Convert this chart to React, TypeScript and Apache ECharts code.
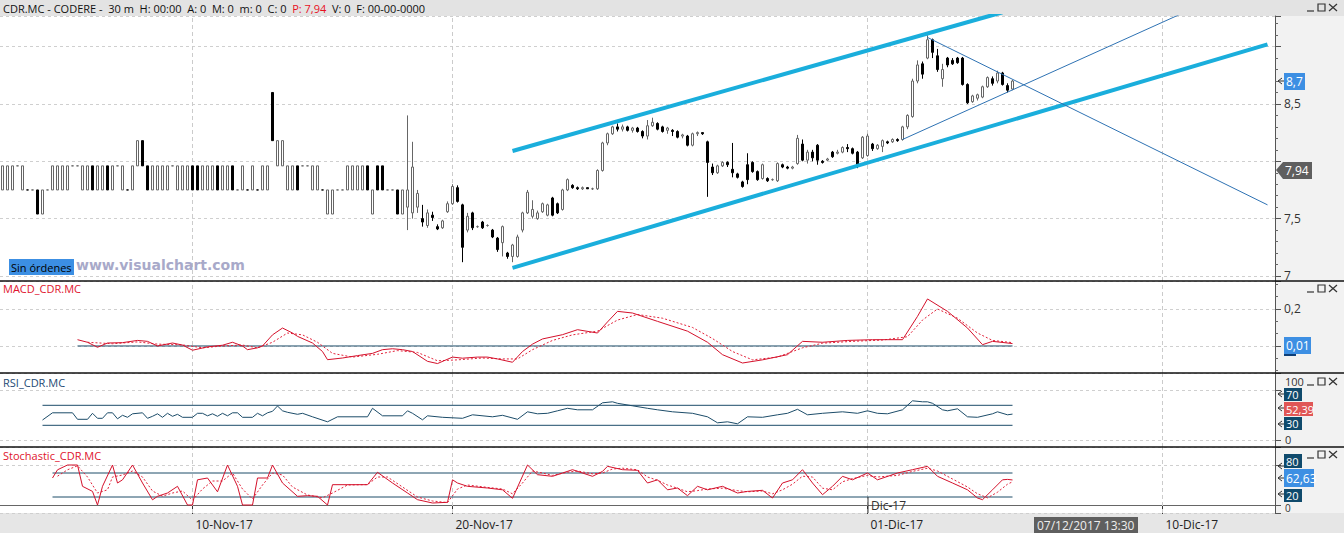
import React, { useEffect, useRef } from 'react';
import * as echarts from 'echarts';

const FONT = "'Open Sans', 'Noto Sans', sans-serif";

// ---------- price candles [open, close, low, high] (30-minute bars) ----------
const U = [7.75, 7.96, 7.75, 7.96];
const D = [7.96, 7.75, 7.75, 7.96];
const T = [7.96, 7.96, 7.96, 7.96];
const B = [7.75, 7.75, 7.75, 7.75];
const Ld = [7.75, 7.54, 7.54, 7.75];
const Lu = [7.54, 7.75, 7.54, 7.75];

const candles: number[][] = [
  U, U, U, T, U, B, B, Ld, Lu, B,
  U, U, U, U, T, T, U, U, D, U,
  U, D, U, T, U, B, U, [7.96, 8.18, 7.96, 8.18], [8.18, 7.96, 7.96, 8.18], D,
  U, U, U, U, T, U, U, U, D, D,
  U, U, U, D, U, U, D, B, U, B,
  U, B, U, U, [8.6, 8.18, 8.18, 8.6], [7.96, 8.18, 7.96, 8.18], [7.96, 8.18, 7.96, 8.18], U, U, D,
  T, T, U, U, B, Lu, Lu, B, B, U,
  U, U, U, D, Lu, D, D, B, B, Ld,
  Lu,
  [7.6, 7.75, 7.4, 8.4], [7.55, 7.95, 7.5, 8.17], [7.6, 7.72, 7.55, 7.75], [7.5, 7.47, 7.43, 7.62],
  [7.44, 7.55, 7.42, 7.58], [7.53, 7.51, 7.48, 7.56], [7.43, 7.41, 7.4, 7.45], [7.42, 7.48, 7.41, 7.49],
  [7.56, 7.63, 7.55, 7.65], [7.63, 7.78, 7.62, 7.8], [7.77, 7.65, 7.64, 7.79], [7.62, 7.25, 7.12, 7.63],
  [7.4, 7.52, 7.38, 7.55], [7.55, 7.42, 7.4, 7.56], [7.43, 7.43, 7.42, 7.44], [7.47, 7.42, 7.41, 7.48],
  [7.44, 7.44, 7.43, 7.45], [7.4, 7.34, 7.33, 7.41], [7.33, 7.23, 7.21, 7.34], [7.29, 7.43, 7.17, 7.44],
  [7.2, 7.17, 7.15, 7.21], [7.17, 7.27, 7.12, 7.28], [7.17, 7.34, 7.16, 7.36], [7.4, 7.55, 7.38, 7.56],
  [7.55, 7.73, 7.54, 7.75], [7.52, 7.58, 7.5, 7.66], [7.5, 7.55, 7.49, 7.57], [7.56, 7.63, 7.55, 7.64],
  [7.53, 7.62, 7.52, 7.63], [7.68, 7.53, 7.52, 7.69], [7.63, 7.55, 7.54, 7.64], [7.58, 7.75, 7.57, 7.76],
  [7.75, 7.84, 7.74, 7.85], [7.79, 7.77, 7.76, 7.8], [7.77, 7.76, 7.75, 7.78], [7.76, 7.77, 7.75, 7.78],
  [7.77, 7.76, 7.76, 7.77], [7.76, 7.76, 7.75, 7.77], [7.76, 7.92, 7.75, 7.93], [7.92, 8.16, 7.91, 8.17],
  [8.16, 8.24, 8.14, 8.25], [8.24, 8.3, 8.23, 8.31], [8.3, 8.28, 8.26, 8.33], [8.28, 8.3, 8.26, 8.32],
  [8.3, 8.27, 8.26, 8.31], [8.27, 8.29, 8.25, 8.3], [8.29, 8.26, 8.25, 8.3], [8.26, 8.22, 8.2, 8.27],
  [8.22, 8.31, 8.19, 8.36], [8.31, 8.34, 8.3, 8.38], [8.33, 8.28, 8.27, 8.34], [8.3, 8.26, 8.25, 8.31],
  [8.27, 8.29, 8.24, 8.3], [8.27, 8.26, 8.22, 8.28], [8.26, 8.21, 8.2, 8.27], [8.22, 8.23, 8.2, 8.24],
  [8.22, 8.14, 8.13, 8.23], [8.14, 8.24, 8.13, 8.25], [8.24, 8.25, 8.22, 8.26], [8.25, 8.24, 8.23, 8.25],
  [8.17, 7.99, 7.69, 8.18], [7.95, 7.9, 7.88, 7.98], [7.9, 7.96, 7.89, 7.97], [7.96, 7.99, 7.95, 8.0],
  [7.99, 7.97, 7.95, 8.0], [7.93, 7.9, 7.86, 8.16], [7.89, 7.86, 7.85, 7.9], [7.82, 7.78, 7.77, 7.83],
  [7.97, 7.84, 7.8, 8.07], [7.99, 7.91, 7.9, 8.0], [7.91, 7.84, 7.83, 7.92], [7.85, 7.97, 7.84, 7.98],
  [7.85, 7.83, 7.82, 7.86], [7.84, 7.84, 7.83, 7.85], [7.83, 7.98, 7.82, 7.99], [7.97, 7.95, 7.94, 7.98],
  [7.95, 7.94, 7.93, 7.96], [7.94, 7.95, 7.93, 7.96], [7.98, 8.2, 7.97, 8.23], [8.15, 8.01, 8.0, 8.19],
  [8.01, 8.08, 7.98, 8.1], [8.08, 8.03, 8.0, 8.1], [8.14, 8.01, 7.97, 8.15], [8.0, 7.99, 7.98, 8.01],
  [8.01, 8.02, 8.0, 8.03], [8.08, 8.04, 8.03, 8.09], [8.07, 8.08, 8.06, 8.1], [8.08, 8.12, 8.07, 8.13],
  [8.12, 8.11, 8.08, 8.15], [8.11, 8.07, 8.06, 8.12], [8.08, 7.97, 7.94, 8.09], [8.03, 8.21, 8.02, 8.22],
  [8.05, 8.22, 8.04, 8.24], [8.15, 8.11, 8.09, 8.16], [8.11, 8.14, 8.1, 8.15], [8.13, 8.18, 8.08, 8.19],
  [8.17, 8.16, 8.15, 8.18], [8.17, 8.19, 8.16, 8.2], [8.19, 8.18, 8.17, 8.2], [8.19, 8.3, 8.18, 8.31],
  [8.3, 8.4, 8.28, 8.41], [8.39, 8.7, 8.38, 8.72], [8.7, 8.84, 8.68, 8.88], [8.85, 8.76, 8.72, 8.87],
  [8.9, 9.06, 8.89, 9.1], [9.06, 8.95, 8.9, 9.07], [8.92, 8.8, 8.78, 8.98], [8.72, 8.8, 8.65, 8.85],
  [8.9, 8.84, 8.82, 8.91], [8.88, 8.85, 8.84, 8.9], [8.9, 8.86, 8.85, 8.91], [8.9, 8.67, 8.66, 8.91],
  [8.67, 8.51, 8.5, 8.68], [8.52, 8.57, 8.51, 8.58], [8.55, 8.58, 8.53, 8.59], [8.56, 8.65, 8.55, 8.66],
  [8.65, 8.73, 8.64, 8.74], [8.72, 8.68, 8.66, 8.74], [8.7, 8.77, 8.68, 8.79], [8.77, 8.67, 8.66, 8.78],
  [8.66, 8.62, 8.6, 8.68], [8.63, 8.7, 8.62, 8.71],
];

// ---------- drawn trend lines [barIndex, price] ----------
const channelUpper = [[102, 8.09], [200, 9.3]];
const channelLower = [[102, 7.07], [253, 9.02]];
const triangleDown = [[185, 9.08], [253, 7.62]];
const triangleUp = [[180, 8.19], [240, 9.37]];

// ---------- indicators [barIndex, value] ----------
const macdLine = [
  [15, 0.034], [17, 0.02], [19, -0.007], [21, 0.016], [24, 0.018], [27, 0.03], [29, 0.025], [31, 0], [34, 0.016],
  [36, 0.005], [38, -0.023], [41, -0.005], [44, 0.004], [46, 0.02], [48, 0], [49, -0.02], [51, -0.01], [52, 0],
  [54, 0.06], [56, 0.097], [58, 0.07], [59, 0.052], [62, 0.016], [64, -0.03], [65, -0.074], [68, -0.065],
  [71, -0.052], [74, -0.04], [76, -0.02], [78, -0.015], [80, -0.02], [82, -0.03], [85, -0.083], [87, -0.095],
  [90, -0.06], [92, -0.066], [95, -0.06], [97, -0.06], [99, -0.07], [102, -0.088], [104, -0.03], [106, 0.01],
  [108, 0.038], [112, 0.061], [115, 0.088], [119, 0.07], [121, 0.13], [123, 0.187], [126, 0.178], [131, 0.133],
  [137, 0.08], [141, 0.02], [144, -0.047], [148, -0.092], [152, -0.075], [157, -0.047], [160, 0.025], [164, 0.02],
  [169, 0.03], [174, 0.034], [180, 0.034], [183, 0.16], [185, 0.254], [189, 0.187], [193, 0.097], [196, 0.007],
  [198, 0.025], [202, 0.013],
];
const macdSignal = [
  [17, 0.02], [22, 0.012], [27, 0.022], [31, 0.01], [36, 0.006], [40, -0.01], [44, 0], [48, 0.005], [51, -0.01],
  [54, 0.02], [57, 0.07], [60, 0.06], [63, 0.02], [66, -0.04], [70, -0.06], [75, -0.045], [79, -0.025], [83, -0.035],
  [87, -0.08], [91, -0.075], [96, -0.065], [100, -0.07], [103, -0.07], [106, -0.02], [110, 0.03], [114, 0.06],
  [119, 0.08], [123, 0.14], [127, 0.17], [132, 0.15], [138, 0.1], [142, 0.04], [146, -0.03], [150, -0.075],
  [155, -0.06], [160, -0.01], [164, 0.015], [170, 0.025], [176, 0.032], [181, 0.05], [184, 0.14], [187, 0.2],
  [191, 0.15], [195, 0.07], [198, 0.03], [202, 0.018],
];
const rsiLine = [
  [8, 40.6], [10, 55], [14, 55], [15, 42], [17, 42], [18, 54], [19, 44], [20, 44], [21, 55], [22, 55], [23, 43],
  [24, 50], [25, 46], [26, 53], [28, 55], [29, 44], [30, 48], [31, 53], [32, 46], [33, 54], [34, 48], [35, 52],
  [36, 46], [38, 46], [39, 54], [40, 54], [41, 49], [42, 53], [43, 48], [44, 54], [45, 49], [46, 55], [47, 55],
  [48, 46], [50, 46], [51, 54], [52, 49], [53, 55], [54, 58], [55, 68.6], [56, 59], [57, 56], [59, 52], [60, 54],
  [62, 47], [65, 37], [67, 47], [73, 47], [74, 64], [76, 49], [80, 49], [81, 59], [82, 54], [84, 41], [85, 49],
  [88, 46], [92, 44], [94, 51], [98, 47], [100, 50], [103, 42], [105, 57], [107, 53], [109, 54], [111, 59],
  [113, 64], [115, 61], [118, 61], [120, 75], [122, 77], [123, 74], [126, 69], [129, 64], [131, 61], [134, 57],
  [138, 54], [141, 47], [143, 35], [145, 37], [147, 33], [149, 47], [152, 46], [155, 51], [157, 54], [159, 62],
  [161, 51], [164, 54], [168, 57], [171, 54], [173, 59], [175, 54], [177, 53], [180, 61], [182, 79], [184, 77],
  [185, 77], [186, 74], [188, 61], [189, 59], [191, 63], [193, 47], [195, 46], [198, 53], [199, 57], [201, 51],
  [202, 52.4],
];
const stochK = [
  [10, 67.5], [11, 88], [13, 100], [15, 100], [16, 46.7], [18, 34], [19, 0], [20, 46.7], [22, 100], [23, 55],
  [24, 63], [26, 100], [28, 55], [30, 13], [31, 21.7], [33, 30], [35, 46.7], [37, 0], [38, 0], [39, 63],
  [41, 67.5], [43, 33], [45, 100], [47, 46.7], [48, 0], [50, 0], [51, 67.5], [53, 67.5], [54, 100], [56, 55],
  [59, 21.7], [61, 23.3], [63, 21.7], [65, 0], [66, 50.8], [73, 50.8], [75, 81.7], [78, 55], [81, 30], [83, 13.3],
  [86, 5], [89, 6.7], [90, 63], [91, 55], [93, 46.7], [97, 42.5], [100, 38], [102, 16.7], [105, 100], [107, 75.8],
  [110, 71.7], [112, 80], [114, 88.3], [118, 71.7], [120, 84], [121, 96.7], [124, 88.3], [127, 86.7], [129, 55],
  [131, 63], [133, 38], [135, 42.5], [137, 23.3], [139, 46.7], [141, 38], [144, 46.7], [147, 30], [149, 34],
  [152, 36.7], [154, 17.5], [156, 55], [158, 63], [160, 88.3], [162, 55], [164, 25.8], [166, 46.7], [168, 71.7],
  [170, 63], [173, 80], [175, 63], [179, 80], [182, 88.3], [185, 96.7], [187, 71.7], [190, 55], [193, 38],
  [195, 17.5], [196, 13.3], [198, 38], [200, 63], [201, 64], [202, 62.6],
];
const stochD = [
  [11, 72], [13, 88], [15, 98], [17, 70], [19, 30], [21, 38], [22, 70], [24, 75], [26, 85], [28, 70], [30, 35],
  [32, 22], [34, 30], [36, 35], [38, 12], [40, 40], [42, 60], [44, 60], [46, 80], [48, 40], [50, 15], [52, 50],
  [54, 80], [56, 75], [58, 45], [61, 25], [64, 18], [66, 30], [69, 50], [73, 51], [75, 70], [77, 70], [80, 45],
  [83, 20], [86, 10], [89, 6], [91, 40], [93, 50], [97, 44], [100, 40], [102, 28], [104, 55], [106, 85], [108, 80],
  [110, 74], [113, 82], [115, 85], [118, 78], [120, 80], [122, 90], [124, 92], [127, 88], [129, 70], [131, 62],
  [133, 50], [135, 42], [137, 33], [139, 36], [141, 40], [144, 42], [147, 36], [149, 33], [152, 35], [154, 28],
  [156, 38], [158, 52], [160, 72], [162, 70], [164, 42], [166, 38], [168, 58], [170, 66], [173, 74], [175, 70],
  [179, 74], [182, 84], [185, 92], [187, 85], [190, 65], [193, 45], [195, 28], [197, 18], [199, 32], [201, 52],
  [202, 58],
];

const macdSpan = [15, 202];
const rsiSpan = [8, 202];
const stochSpan = [10, 202];
const rsiLevels = [70, 30];
const stochLevels = [80, 20];

// ---------- time axis ----------
const dateIdx = [38, 90, 173, 232];
const dateLabels = ['10-Nov-17', '20-Nov-17', '01-Dic-17', '10-Dic-17'];
const NCAT = 255;
const categories = Array.from({ length: NCAT }, (_, i) => String(i));

// value ranges of the four panes [min, max]
const paneRange = [
  [6.956, 9.267],
  [-0.146, 0.351],
  [-13.4, 134.6],
  [-20, 145],
];

const fmtComma = (v: number, keep: number[]) => {
  const r = Math.round(v * 1000) / 1000;
  return keep.includes(r) ? String(r).replace('.', ',') : '';
};

const yAxisOf = (g: number, splitNumber: number, keep: number[], minor: number) => ({
  type: 'value',
  gridIndex: g,
  position: 'right',
  min: paneRange[g][0],
  max: paneRange[g][1],
  splitNumber,
  axisLine: { show: true, lineStyle: { color: '#555' } },
  axisTick: { show: true, length: 6, lineStyle: { color: '#555' } },
  minorTick: { show: minor > 0, splitNumber: minor || 5, length: 3, lineStyle: { color: '#666' } },
  minorSplitLine: { show: false },
  axisLabel: {
    show: keep.length > 0,
    formatter: (v: number) => fmtComma(v, keep),
    color: '#333', fontSize: 12, margin: 9, fontFamily: FONT,
  },
  splitLine: { show: true, lineStyle: { color: '#cfcfcf', type: [3, 3], width: 1 } },
});

const flat = (span: number[], v: number) => [[span[0], v], [span[1], v]];

const trend = (data: number[][], color: string, width: number) => ({
  type: 'line',
  xAxisIndex: 0,
  yAxisIndex: 0,
  data,
  symbol: 'none',
  silent: true,
  clip: true,
  z: 4,
  lineStyle: { color, width },
});

const line = (g: number, data: any[], color: string, dashed = false, z = 3) => ({
  type: 'line',
  xAxisIndex: g,
  yAxisIndex: g,
  data,
  symbol: 'none',
  silent: true,
  z,
  lineStyle: { color, width: 1, type: dashed ? [2, 2] : 'solid' },
});

// vertical dashed day separators in every pane
const dayLines = [0, 1, 2, 3].flatMap((g) =>
  dateIdx.map((i) => ({
    type: 'line',
    xAxisIndex: g,
    yAxisIndex: g,
    data: [[i, paneRange[g][0]], [i, paneRange[g][1]]],
    symbol: 'none',
    silent: true,
    z: 1,
    lineStyle: { color: '#cbcbcb', width: 1, type: [4, 3] },
  }))
);

// ---------- decorations ----------
const winBtns = (y: number) => [
  { type: 'line', shape: { x1: 1307, y1: y + 7, x2: 1314, y2: y + 7 }, style: { stroke: '#333', lineWidth: 1.2 } },
  { type: 'rect', shape: { x: 1318, y, width: 7, height: 7 }, style: { fill: 'none', stroke: '#333', lineWidth: 1.2 } },
  { type: 'line', shape: { x1: 1329, y1: y, x2: 1337, y2: y + 7 }, style: { stroke: '#333', lineWidth: 1.2 } },
  { type: 'line', shape: { x1: 1337, y1: y, x2: 1329, y2: y + 7 }, style: { stroke: '#333', lineWidth: 1.2 } },
];

const box = (x: number, y: number, w: number, h: number, fill: string, text: string, fs = 12) => [
  { type: 'rect', z: 20, shape: { x, y, width: w, height: h }, style: { fill } },
  {
    type: 'text', z: 21, x: x + 2, y: y + h / 2,
    style: { text, fill: '#fff', fontSize: fs, fontFamily: FONT, verticalAlign: 'middle' },
  },
];

const axText = (y: number, text: string, fs = 12) => ({
  type: 'text', z: 19, x: 1285, y,
  style: { text, fill: '#333', fontSize: fs, fontFamily: FONT, verticalAlign: 'middle' },
});

const arrow = (y: number) => [
  { type: 'polyline', z: 20, shape: { points: [[1282, y - 3], [1278, y], [1282, y + 3]] }, style: { stroke: '#333', fill: 'none', lineWidth: 1 } },
  { type: 'line', z: 20, shape: { x1: 1278, y1: y, x2: 1284, y2: y }, style: { stroke: '#333', lineWidth: 1 } },
];

const sep = (y: number) => ({
  type: 'line', z: 15, shape: { x1: 0, y1: y, x2: 1344, y2: y }, style: { stroke: '#111', lineWidth: 1.5 },
});

const graphics: any[] = [
  { type: 'rect', z: -5, shape: { x: 0, y: 0, width: 1344, height: 16 }, style: { fill: '#e3e3e3' } },
  { type: 'rect', z: -5, shape: { x: 1275, y: 16, width: 69, height: 497 }, style: { fill: '#f2f2f2' } },
  { type: 'rect', z: -5, shape: { x: 0, y: 513, width: 1344, height: 20 }, style: { fill: '#e6e6e6' } },
  {
    type: 'text', z: 20, x: 3, y: 8,
    style: {
      text: '{a|CDR.MC - CODERE -  30 m  H: 00:00  A: 0  M: 0  m: 0  C: 0  }{b|P: 7,94}{a|  V: 0  F: 00-00-0000}',
      verticalAlign: 'middle',
      rich: {
        a: { fill: '#111', fontSize: 11, fontFamily: FONT },
        b: { fill: '#e8111f', fontSize: 11, fontFamily: FONT },
      },
    },
  },
  sep(281), sep(373), sep(447),
  ...winBtns(4), ...winBtns(285), ...winBtns(378), ...winBtns(451),
  // watermark + order label
  { type: 'rect', z: 20, shape: { x: 9, y: 259, width: 65, height: 16 }, style: { fill: '#3c8fe3' } },
  { type: 'text', z: 21, x: 11, y: 267, style: { text: 'Sin órdenes', fill: '#000', fontSize: 11, fontFamily: FONT, verticalAlign: 'middle' } },
  { type: 'text', z: 21, x: 76, y: 265, style: { text: 'www.visualchart.com', fill: '#a8a9c9', fontSize: 14, fontWeight: 'bold', fontFamily: "'DejaVu Sans', sans-serif", verticalAlign: 'middle' } },
  // panel titles
  { type: 'text', z: 21, x: 3, y: 288, style: { text: 'MACD_CDR.MC', fill: '#e0142d', fontSize: 11, fontFamily: FONT, verticalAlign: 'middle' } },
  { type: 'text', z: 21, x: 3, y: 382, style: { text: 'RSI_CDR.MC', fill: '#1e4a74', fontSize: 11, fontFamily: FONT, verticalAlign: 'middle' } },
  { type: 'text', z: 21, x: 3, y: 455, style: { text: 'Stochastic_CDR.MC', fill: '#e0142d', fontSize: 11, fontFamily: FONT, verticalAlign: 'middle' } },
  // price markers on the right axis
  ...arrow(81),
  ...box(1284, 73, 21, 17, '#3d8fe3', '8,7'),
  { type: 'polygon', z: 20, shape: { points: [[1276, 170], [1283, 162], [1312, 162], [1312, 179], [1283, 179]] }, style: { fill: '#5f5f5f' } },
  { type: 'text', z: 21, x: 1285, y: 170.5, style: { text: '7,94', fill: '#fff', fontSize: 12, fontFamily: FONT, verticalAlign: 'middle' } },
  ...box(1284, 337, 27, 17, '#3d8fe3', '0,01'),
  { type: 'rect', z: 20, shape: { x: 1284, y: 354, width: 12, height: 2 }, style: { fill: '#0e3f78' } },
  // RSI axis
  axText(381, '100', 11),
  ...arrow(394), ...arrow(408), ...arrow(424),
  ...box(1284, 388, 18, 13, '#0f4a6c', '70', 11),
  ...box(1284, 402, 29, 14, '#e05656', '52,39', 11),
  ...box(1284, 417, 18, 13, '#0f4a6c', '30', 11),
  axText(439, '0', 11),
  // Stochastic axis
  ...arrow(466), ...arrow(478), ...arrow(494),
  ...box(1284, 454, 18, 14, '#0f4a6c', '80', 11),
  ...box(1284, 469, 30, 18, '#3d8fe3', '62,63'),
  ...box(1284, 489, 18, 13, '#0f4a6c', '20', 11),
  axText(508, '0', 10),
  // month marker and cursor date
  { type: 'line', z: 20, shape: { x1: 868, y1: 497, x2: 868, y2: 513 }, style: { stroke: '#333', lineWidth: 1 } },
  { type: 'text', z: 21, x: 871, y: 505, style: { text: 'Dic-17', fill: '#333', fontSize: 12, fontFamily: FONT, verticalAlign: 'middle' } },
  { type: 'rect', z: 20, shape: { x: 1034, y: 517, width: 104, height: 16 }, style: { fill: '#5f5f5f' } },
  { type: 'text', z: 21, x: 1037, y: 525, style: { text: '07/12/2017 13:30', fill: '#eee', fontSize: 12, fontFamily: FONT, verticalAlign: 'middle' } },
];

const isDate = (index: number) => dateIdx.includes(index);

const option: any = {
  animation: false,
  backgroundColor: '#fff',
  textStyle: { fontFamily: FONT },
  grid: [
    { left: 0, top: 16, width: 1275, height: 265 },
    { left: 0, top: 281, width: 1275, height: 92 },
    { left: 0, top: 373, width: 1275, height: 74 },
    { left: 0, top: 447, width: 1275, height: 66 },
  ],
  xAxis: [0, 1, 2, 3].map((g) => ({
    type: 'category',
    gridIndex: g,
    data: categories,
    boundaryGap: true,
    axisLine: { show: g === 3, lineStyle: { color: '#666' } },
    axisTick: g === 3
      ? { show: true, alignWithLabel: true, interval: isDate, length: 9, lineStyle: { color: '#333' } }
      : { show: false },
    axisLabel: g === 3
      ? {
          show: true,
          interval: isDate,
          formatter: (_v: string, index: number) => {
            const k = dateIdx.indexOf(index);
            return k >= 0 ? dateLabels[k] : '';
          },
          align: 'left',
          padding: [0, 0, 0, 3],
          margin: 5,
          fontSize: 12,
          color: '#222',
          fontFamily: FONT,
        }
      : { show: false },
    splitLine: { show: false },
  })),
  yAxis: [
    yAxisOf(0, 5, [7, 7.5, 8.5], 5),
    yAxisOf(1, 2, [0.2], 3),
    yAxisOf(2, 1, [], 0),
    yAxisOf(3, 2, [], 0),
  ],
  series: [
    ...dayLines,
    {
      type: 'candlestick',
      xAxisIndex: 0,
      yAxisIndex: 0,
      data: candles,
      barWidth: 3,
      silent: true,
      z: 3,
      itemStyle: { color: '#ffffff', color0: '#000000', borderColor: '#666666', borderColor0: '#000000', borderWidth: 1 },
    },
    trend(channelUpper, '#1aaedc', 4),
    trend(channelLower, '#1aaedc', 4),
    trend(triangleDown, '#2e72b3', 1),
    trend(triangleUp, '#2e72b3', 1),
    line(1, flat(macdSpan, 0), '#1c4c69'),
    line(1, macdSignal, '#e2223a', true),
    line(1, macdLine, '#d4112b'),
    line(2, flat(rsiSpan, rsiLevels[0]), '#1c4c69'),
    line(2, flat(rsiSpan, rsiLevels[1]), '#1c4c69'),
    line(2, rsiLine, '#1c4c69'),
    line(3, flat(stochSpan, stochLevels[0]), '#1c4c69'),
    line(3, flat(stochSpan, stochLevels[1]), '#1c4c69'),
    line(3, stochD, '#e2223a', true),
    line(3, stochK, '#d4112b'),
  ],
  graphic: { elements: graphics },
};

export default function App() {
  const ref = useRef<HTMLDivElement>(null);
  useEffect(() => {
    document.body.style.margin = '0';
    const chart = echarts.init(ref.current as HTMLDivElement, undefined, { renderer: 'svg' });
    chart.setOption(option);
    return () => chart.dispose();
  }, []);
  return <div ref={ref} style={{ width: 1344, height: 533 }} />;
}
